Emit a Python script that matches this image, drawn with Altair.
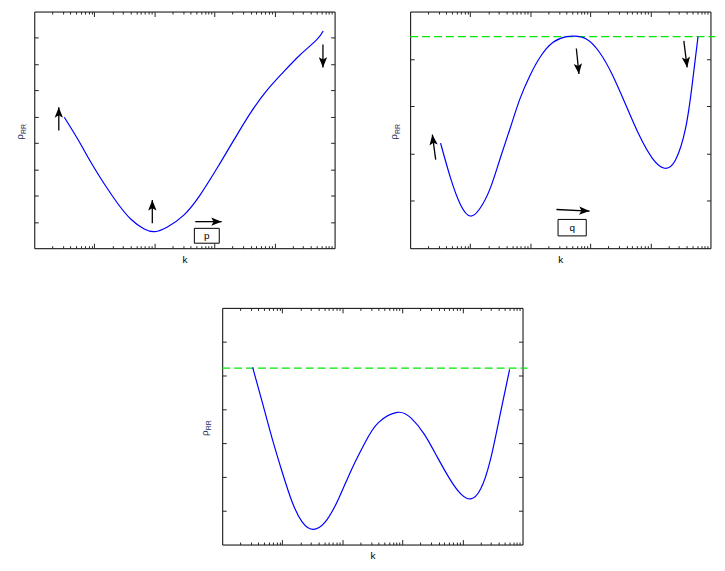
import altair as alt
import pandas as pd

FONT = "Liberation Sans"

# ---------------- panel 1 : p ----------------
P1_K = [3.16, 5.25, 8.71, 14.5, 24.5, 40.7, 67.6, 102, 162, 309, 575, 1096,
        2089, 3890, 7413, 13804, 26303, 50119, 64565]
P1_RHO = [4.98, 4.16, 3.28, 2.46, 1.70, 1.10, 0.73, 0.63, 0.80, 1.26, 2.02, 3.03,
          4.10, 5.11, 5.99, 6.68, 7.34, 7.92, 8.26]
P1_YMAX = 9
P1_YTICKS = [1, 2, 3, 4, 5, 6, 7, 8]
P1_ARROW_K0 = [2.56, 92.3, 64000, 479]
P1_ARROW_R0 = [4.48, 0.946, 7.75, 1.01]
P1_ARROW_K1 = [2.56, 92.3, 64000, 1318]
P1_ARROW_R1 = [5.36, 1.83, 6.87, 1.01]
P1_ARROW_ANGLE = [0, 0, 180, 90]
P1_BOX_K = [463, 1202]
P1_BOX_R = [0.19, 0.756]
P1_BOX_TEXT = "p"

# ---------------- panel 2 : q ----------------
P2_K = [3.21, 4.71, 6.89, 10.07, 14.7, 21.6, 31.6, 46.1, 67.5, 98.9, 144.5, 239.9,
        400, 548, 855, 1419, 2355, 3917, 6501, 10789, 17298, 26303, 38459, 49431, 62087]
P2_RHO = [2.22, 1.48, 0.92, 0.68, 0.85, 1.27, 1.90, 2.53, 3.16, 3.65, 4.03, 4.35,
          4.47, 4.48, 4.42, 4.14, 3.65, 3.02, 2.39, 1.90, 1.69, 1.87, 2.53, 3.44, 4.47]
P2_YMAX = 5
P2_YTICKS = [1, 2, 3, 4]
P2_LEVEL = 4.47
P2_ARROW_K0 = [2.66, 585, 36058, 273]
P2_ARROW_R0 = [1.87, 4.22, 4.38, 0.818]
P2_ARROW_K1 = [2.34, 646, 40926, 970]
P2_ARROW_R1 = [2.40, 3.68, 3.82, 0.784]
P2_ARROW_ANGLE = [353, 174, 173, 93]
P2_BOX_K = [290, 855]
P2_BOX_R = [0.26, 0.608]
P2_BOX_TEXT = "q"

# ---------------- panel 3 ----------------
P3_K = [3.21, 4.69, 6.85, 10.02, 14.66, 21.4, 32.1, 52.0, 86.3, 143.2, 237.7, 394.5,
        824, 1400, 2323, 3855, 6397, 9376, 13709, 20045, 29309, 42855, 60954]
P3_RHO = [5.24, 4.18, 3.11, 2.13, 1.25, 0.67, 0.45, 0.67, 1.35, 2.23, 3.01, 3.60,
          3.91, 3.74, 3.26, 2.57, 1.89, 1.50, 1.35, 1.64, 2.52, 3.89, 5.18]
P3_YMAX = 7
P3_YTICKS = [1, 2, 3, 4, 5, 6]
P3_LEVEL = 5.22

# axis tick positions (log k axis, decades 1 .. 1e5)
K_DOMAIN = [1, 100000]
K_MAJOR = [10, 100, 1000, 10000]
K_MINOR = [m * 10 ** e for e in range(0, 5) for m in range(2, 10)]

W, H = 302, 238
ARROW_HEAD = "M0,0L0.8,2L0,1.55L-0.8,2Z"


def panel(k, rho, ymax, yticks, title_dx, level=None, arrows=None, box=None):
    xs = alt.Scale(type="log", domain=K_DOMAIN, nice=False)
    ys = alt.Scale(domain=[0, ymax], nice=False, zero=False)
    df = pd.DataFrame({"k": k, "rho": rho})

    def xax(orient, values, size, title=None):
        if title:
            return alt.Axis(orient=orient, values=values, tickSize=size, offset=-size,
                            title=title, titleFont=FONT, titleFontSize=10,
                            titleFontWeight="normal", titleColor="black",
                            titlePadding=6)
        return alt.Axis(orient=orient, values=values, tickSize=size, offset=-size, title=None)

    def yax(orient):
        return alt.Axis(orient=orient, values=yticks, tickSize=4, offset=-4, title=None)

    line = alt.Chart(df).mark_line(color="#0000ff", strokeWidth=1.2, interpolate="natural").encode(
        x=alt.X("k:Q", scale=xs, axis=xax("bottom", K_MAJOR, 5, "k")),
        y=alt.Y("rho:Q", scale=ys, axis=yax("left")),
    )
    g1 = alt.Chart(df).mark_line(opacity=0).encode(
        x=alt.X("k:Q", scale=xs, axis=xax("top", K_MAJOR, 5)),
        y=alt.Y("rho:Q", scale=ys, axis=yax("right")),
    )
    g2 = alt.Chart(df).mark_line(opacity=0).encode(
        x=alt.X("k:Q", scale=xs, axis=xax("bottom", K_MINOR, 2.5)),
        y=alt.Y("rho:Q", scale=ys, axis=None),
    )
    g3 = alt.Chart(df).mark_line(opacity=0).encode(
        x=alt.X("k:Q", scale=xs, axis=xax("top", K_MINOR, 2.5)),
        y=alt.Y("rho:Q", scale=ys, axis=None),
    )
    layers = [g1, g2, g3]

    if level is not None:
        ldf = pd.DataFrame({"lv": [level]})
        layers.append(alt.Chart(ldf).mark_rule(color="#00e600", strokeWidth=1.3, strokeDash=[8, 4]).encode(
            y=alt.Y("lv:Q", scale=ys, axis=None),
            x=alt.value(0), x2=alt.value(W + 5)))

    layers.append(line)

    if arrows is not None:
        k0, r0, k1, r1, ang = arrows
        adf = pd.DataFrame({"k0": k0, "r0": r0, "k1": k1, "r1": r1, "ang": ang})
        layers.append(alt.Chart(adf).mark_rule(color="black", strokeWidth=1.3).encode(
            x=alt.X("k0:Q", scale=xs, axis=None), y=alt.Y("r0:Q", scale=ys, axis=None),
            x2="k1:Q", y2="r1:Q"))
        layers.append(alt.Chart(adf).mark_point(shape=ARROW_HEAD, filled=True, size=110,
                                                color="black", opacity=1).encode(
            x=alt.X("k1:Q", scale=xs, axis=None), y=alt.Y("r1:Q", scale=ys, axis=None),
            angle=alt.Angle("ang:Q", scale=None)))

    if box is not None:
        bk, br, btxt = box
        bdf = pd.DataFrame({"k0": [bk[0]], "k1": [bk[1]], "r0": [br[0]], "r1": [br[1]],
                            "kc": [(bk[0] * bk[1]) ** 0.5], "rc": [(br[0] + br[1]) / 2],
                            "t": [btxt]})
        layers.append(alt.Chart(bdf).mark_rect(fill="white", stroke="black", strokeWidth=1).encode(
            x=alt.X("k0:Q", scale=xs, axis=None), x2="k1:Q",
            y=alt.Y("r0:Q", scale=ys, axis=None), y2="r1:Q"))
        layers.append(alt.Chart(bdf).mark_text(font=FONT, fontSize=10, color="black",
                                               baseline="middle", align="center").encode(
            x=alt.X("kc:Q", scale=xs, axis=None), y=alt.Y("rc:Q", scale=ys, axis=None),
            text="t:N"))

    # y title: rho with subscript RR
    layers.append(alt.Chart(pd.DataFrame({"t": ["ρ"]})).mark_text(
        font=FONT, fontSize=10, angle=270, color="#1a2a5a", align="center", baseline="middle").encode(
        x=alt.value(title_dx), y=alt.value(126), text="t:N"))
    layers.append(alt.Chart(pd.DataFrame({"t": ["RR"]})).mark_text(
        font=FONT, fontSize=7, angle=270, color="#1a2a5a", align="center", baseline="middle").encode(
        x=alt.value(title_dx + 4), y=alt.value(118), text="t:N"))

    return alt.layer(*layers).resolve_axis(x="independent", y="independent").properties(
        width=W, height=H)


p1 = panel(P1_K, P1_RHO, P1_YMAX, P1_YTICKS, -14,
           arrows=(P1_ARROW_K0, P1_ARROW_R0, P1_ARROW_K1, P1_ARROW_R1, P1_ARROW_ANGLE),
           box=(P1_BOX_K, P1_BOX_R, P1_BOX_TEXT))
p2 = panel(P2_K, P2_RHO, P2_YMAX, P2_YTICKS, -16, level=P2_LEVEL,
           arrows=(P2_ARROW_K0, P2_ARROW_R0, P2_ARROW_K1, P2_ARROW_R1, P2_ARROW_ANGLE),
           box=(P2_BOX_K, P2_BOX_R, P2_BOX_TEXT))
p3 = panel(P3_K, P3_RHO, P3_YMAX, P3_YTICKS, -17, level=P3_LEVEL)

top = alt.hconcat(p1, p2, spacing=53)
chart = alt.vconcat(top, p3, spacing=42, center=True).properties(
    padding={"left": 6, "top": 1, "right": 0, "bottom": 0}
).configure_view(stroke="black", strokeWidth=1).configure_axis(
    domain=False, labels=False, grid=False, tickColor="#222", tickWidth=1
)

chart.save("out.html", embed_options={"renderer": "svg", "actions": False})
